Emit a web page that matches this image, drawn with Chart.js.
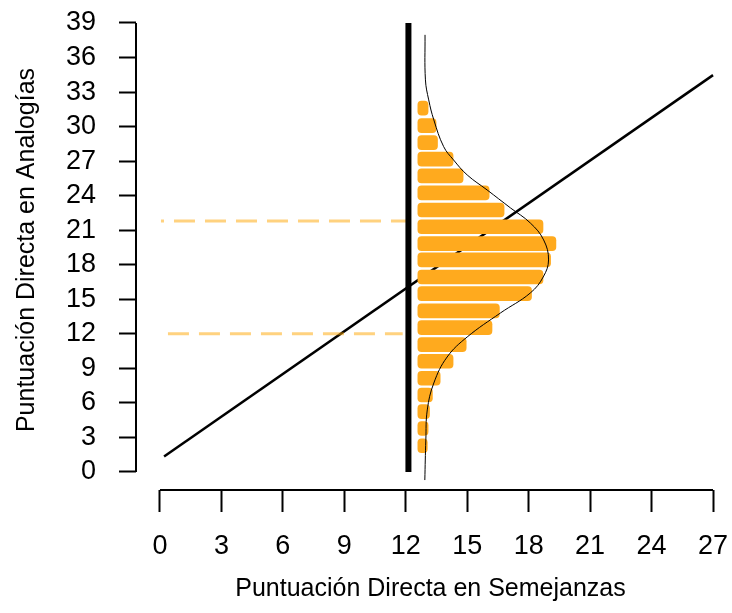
<!DOCTYPE html>
<html>
<head>
<meta charset="utf-8">
<script src="https://cdn.jsdelivr.net/npm/chart.js@4"></script>
<style>
  html, body { margin: 0; padding: 0; background: #fff; }
  #wrap { width: 732px; height: 613px; }
</style>
</head>
<body>
<div id="wrap"><canvas id="chart" width="732" height="613"></canvas></div>
<script>
// axis ticks
const xTicks = [0, 3, 6, 9, 12, 15, 18, 21, 24, 27];
const yTicks = [0, 3, 6, 9, 12, 15, 18, 21, 24, 27, 30, 33, 36, 39];

// histogram of Analogías (horizontal bars)
const barBase = 12.59;
const barY = [31.60, 30.09, 28.61, 27.17, 25.72, 24.24, 22.76, 21.30, 19.83, 18.42, 16.94,
              15.49, 13.99, 12.54, 11.06, 9.62, 8.14, 6.69, 5.24, 3.78, 2.28];
const barEnd = [13.09, 13.48, 13.55, 14.31, 14.80, 16.07, 16.80, 18.70, 19.33, 19.07, 18.70,
                18.14, 16.57, 16.21, 14.95, 14.31, 13.68, 13.30, 13.16, 13.09, 13.05];

// density curve drawn over the histogram
const curveX = [12.94, 12.96, 13.12, 13.37, 13.85, 14.33, 15.00, 15.97, 17.11, 18.08, 18.73,
                18.97, 18.71, 18.08, 16.62, 15.00, 14.02, 13.37, 13.05, 12.98, 12.93];
const curveY = [37.97, 34.06, 32.32, 30.58, 28.26, 27.11, 25.80, 24.50, 22.94, 21.63, 20.16,
                18.42, 16.94, 15.55, 13.81, 11.73, 9.99, 7.73, 5.39, 2.78, -0.70];

// regression line
const regX = [0.2, 27];
const regY = [1.35, 34.47];

// mean of Semejanzas (thick vertical line)
const meanX = [12.13, 12.13];
const meanY = [0, 39];

// dashed reference lines
const upperX = [0.05, 12.18];
const upperY = [21.8, 21.8];
const lowerX = [0.39, 11.85];
const lowerY = [12.0, 12.0];

const FONT = "'Liberation Sans', Arial, Helvetica, sans-serif";
const toPts = (xs, ys) => xs.map((x, i) => ({ x: x, y: ys[i] }));

// R style detached axis lines
const axisLines = {
    id: 'axisLines',
    afterDraw(chart) {
        const ctx = chart.ctx;
        const xs = chart.scales.x;
        const ys = chart.scales.y;
        const area = chart.chartArea;
        ctx.save();
        ctx.strokeStyle = '#000';
        ctx.lineWidth = 2;
        ctx.beginPath();
        ctx.moveTo(xs.getPixelForValue(xTicks[0]), area.bottom);
        ctx.lineTo(xs.getPixelForValue(xTicks[xTicks.length - 1]), area.bottom);
        ctx.moveTo(area.left, ys.getPixelForValue(yTicks[0]));
        ctx.lineTo(area.left, ys.getPixelForValue(yTicks[yTicks.length - 1]));
        ctx.stroke();
        ctx.restore();
    }
};

new Chart(document.getElementById('chart'), {
    type: 'scatter',
    data: {
        datasets: [
            {
                type: 'line',
                data: toPts(regX, regY),
                borderColor: '#000',
                borderWidth: 2.5,
                pointRadius: 0,
                order: 5
            },
            {
                type: 'bar',
                indexAxis: 'y',
                data: barY.map((y, i) => ({ y: y, x: [barBase, barEnd[i]] })),
                backgroundColor: '#FFAA1E',
                borderWidth: 0,
                borderRadius: 4,
                borderSkipped: false,
                barThickness: 14,
                order: 4
            },
            {
                type: 'line',
                data: toPts(upperX, upperY),
                borderColor: 'rgba(255,165,0,0.5)',
                borderWidth: 3,
                borderDash: [21, 10],
                borderDashOffset: 18,
                pointRadius: 0,
                order: 3
            },
            {
                type: 'line',
                data: toPts(lowerX, lowerY),
                borderColor: 'rgba(255,165,0,0.5)',
                borderWidth: 3,
                borderDash: [21, 10],
                pointRadius: 0,
                order: 3
            },
            {
                type: 'line',
                data: toPts(meanX, meanY),
                borderColor: '#000',
                borderWidth: 6,
                borderCapStyle: 'butt',
                pointRadius: 0,
                order: 2
            },
            {
                type: 'line',
                data: toPts(curveX, curveY),
                borderColor: '#000',
                borderWidth: 1,
                tension: 0.4,
                pointRadius: 0,
                order: 1
            }
        ]
    },
    options: {
        responsive: false,
        animation: false,
        devicePixelRatio: 1,
        layout: { padding: { top: 10, right: 7, left: 0, bottom: 0 } },
        plugins: {
            legend: { display: false },
            tooltip: { enabled: false }
        },
        scales: {
            x: {
                type: 'linear',
                offset: false,
                min: -1.17,
                max: 27.585,
                afterFit: (s) => { s.height = 123; s.paddingLeft = 0; s.paddingRight = 0; },
                afterBuildTicks: (s) => { s.ticks = xTicks.map(v => ({ value: v })); },
                border: { display: false },
                grid: {
                    offset: false,
                    drawOnChartArea: false,
                    drawTicks: true,
                    tickLength: 22,
                    tickColor: '#000',
                    tickWidth: 2
                },
                ticks: {
                    color: '#000',
                    padding: 18,
                    maxRotation: 0,
                    autoSkip: false,
                    font: { family: FONT, size: 27 }
                },
                title: {
                    display: true,
                    text: 'Puntuación Directa en Semejanzas',
                    color: '#000',
                    font: { family: FONT, size: 25 },
                    padding: { top: 0, bottom: 9 }
                }
            },
            y: {
                type: 'linear',
                offset: false,
                min: -1.5635,
                max: 40.129,
                afterFit: (s) => { s.width = 136; s.paddingTop = 0; s.paddingBottom = 0; },
                afterBuildTicks: (s) => { s.ticks = yTicks.map(v => ({ value: v })); },
                border: { display: false },
                grid: {
                    offset: false,
                    drawOnChartArea: false,
                    drawTicks: true,
                    tickLength: 17,
                    tickColor: '#000',
                    tickWidth: 2
                },
                ticks: {
                    color: '#000',
                    padding: 23,
                    autoSkip: false,
                    font: { family: FONT, size: 27 }
                },
                title: {
                    display: true,
                    text: 'Puntuación Directa en Analogías',
                    color: '#000',
                    font: { family: FONT, size: 25 },
                    padding: { top: 12, bottom: 0 }
                }
            }
        }
    },
    plugins: [axisLines]
});
</script>
</body>
</html>
